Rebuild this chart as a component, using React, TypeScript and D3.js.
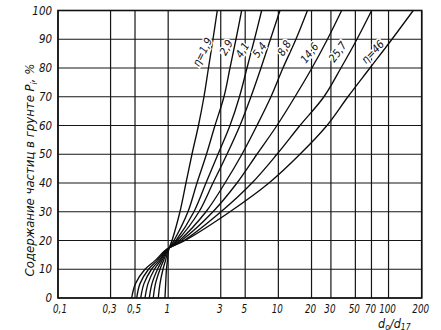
import React from "react";
import * as d3 from "d3";

const W = 441;
const H = 330;

// Percent content levels (y) at which each curve was read
const pLevels = [0, 5, 10, 13, 17, 20, 30, 40, 50, 60, 70, 80, 90, 100];

// d0/d17 values of each curve at those levels
const eta19 = [0.935, 0.949, 0.965, 0.985, 1.013, 1.083, 1.279, 1.45, 1.644, 1.883, 2.113, 2.321, 2.55, 2.79];
const eta29 = [0.813, 0.843, 0.897, 0.945, 1.008, 1.129, 1.512, 1.825, 2.226, 2.659, 3.209, 3.638, 4.123, 4.645];
const eta41 = [0.732, 0.767, 0.843, 0.907, 1.004, 1.177, 1.714, 2.203, 2.831, 3.638, 4.436, 5.19, 6.069, 7.056];
const eta54 = [0.674, 0.713, 0.8, 0.878, 1.0, 1.214, 1.904, 2.55, 3.417, 4.482, 5.641, 6.953, 8.478, 10.34];
const eta88 = [0.616, 0.656, 0.751, 0.851, 0.996, 1.266, 2.203, 3.277, 4.674, 6.394, 8.567, 11.01, 14.44, 18.37];
const eta146 = [0.563, 0.603, 0.706, 0.825, 0.988, 1.32, 2.55, 4.211, 6.394, 9.712, 14.15, 20.18, 27.9, 37.53];
const eta257 = [0.518, 0.555, 0.663, 0.791, 0.981, 1.391, 3.014, 5.759, 9.712, 15.7, 25.93, 36.98, 51.68, 70.24];
const eta46 = [0.466, 0.505, 0.616, 0.759, 0.975, 1.421, 3.638, 8.216, 15.7, 27.61, 42.81, 67.79, 107.4, 167.6];

const curveSeries = [eta19, eta29, eta41, eta54, eta88, eta146, eta257, eta46];
const curveLabels = ["η=1,9", "2,9", "4,1", "5,4", "8,8", "14,6", "25,7", "η=46"];
const labelP = 85;

const xTicks = [0.1, 0.3, 0.5, 1, 3, 5, 10, 20, 30, 50, 70, 100, 200];
const xTickLabels = ["0,1", "0,3", "0,5", "1", "3", "5", "10", "20", "30", "50", "70", "100", "200"];
const yTicks = [0, 10, 20, 30, 40, 50, 60, 70, 80, 90, 100];

const yTitle = "Содержание частиц в грунте P";

// label styling (angle, offsets in px)
const labelAngles = [-63, -61, -58, -54, -58, -52, -54, -46];
const labelDx = [-8, -6.5, -8, -6, -5, -10, -11, -8];
const labelDy = [-1.5, -6, -3.5, -3.5, -5.5, -0.5, -1.5, -1.5];

const FONT = "'DejaVu Sans Condensed', 'DejaVu Sans', sans-serif";

export default function App() {
  const x = d3.scaleLog().domain([0.1, 200]).range([58, 421.7]);
  const y = d3.scaleLinear().domain([0, 100]).range([298, 10.5]);

  const line = d3
    .line<[number, number]>()
    .x((d) => x(d[0]))
    .y((d) => y(d[1]))
    .curve(d3.curveCatmullRom.alpha(0.5));

  const x0 = x(0.1);
  const x1 = x(200);
  const y0 = y(0);
  const y1 = y(100);

  const labelPos = curveSeries.map((vals, i) => {
    const i80 = pLevels.indexOf(80);
    const i90 = pLevels.indexOf(90);
    const t = (labelP - 80) / 10;
    const v = Math.exp(Math.log(vals[i80]) * (1 - t) + Math.log(vals[i90]) * t);
    return { cx: x(v) + labelDx[i], cy: y(labelP) + labelDy[i] };
  });

  return (
    <svg
      width={W}
      height={H}
      style={{ position: "absolute", left: 0, top: 0, background: "#fff" }}
      fontFamily={FONT}
    >
      <rect x={0} y={0} width={W} height={H} fill="#fff" />
      {/* grid */}
      <g stroke="#161616" strokeWidth={1.2}>
        {xTicks.map((t) => (
          <line key={"vx" + t} x1={x(t)} x2={x(t)} y1={y0} y2={y1} />
        ))}
        {yTicks.map((t) => (
          <line key={"hy" + t} x1={x0} x2={x1} y1={y(t)} y2={y(t)} />
        ))}
      </g>
      <rect x={x0} y={y1} width={x1 - x0} height={y0 - y1} fill="none" stroke="#111" strokeWidth={1.6} />

      {/* curves */}
      <g fill="none" stroke="#0d0d0d" strokeWidth={1.35}>
        {curveSeries.map((vals, i) => (
          <path key={"c" + i} d={line(vals.map((v, j) => [v, pLevels[j]] as [number, number])) || ""} />
        ))}
      </g>

      {/* curve labels */}
      <g fontSize={11} fontStyle="italic" fill="#111">
        {curveLabels.map((lab, i) => (
          <text
            key={"l" + i}
            x={0}
            y={0}
            textAnchor="middle"
            dominantBaseline="central"
            transform={`translate(${labelPos[i].cx},${labelPos[i].cy}) rotate(${labelAngles[i]})`}
            stroke="#fff"
            strokeWidth={3}
            paintOrder="stroke"
          >
            {lab}
          </text>
        ))}
      </g>

      {/* y tick labels */}
      <g fontSize={13} fontStyle="italic" fill="#111" textAnchor="end">
        {yTicks.map((t) => (
          <text key={"yl" + t} transform={`translate(52,${y(t) + 4}) scale(0.88,1)`}>
            {t}
          </text>
        ))}
      </g>

      {/* x tick labels */}
      <g fontSize={12.5} fontStyle="italic" fill="#111" textAnchor="middle">
        {xTicks.map((t, i) => (
          <text key={"xl" + t} transform={`translate(${x(t) + (i === 0 ? 2 : -1)},313) scale(0.78,1)`}>
            {xTickLabels[i]}
          </text>
        ))}
      </g>

      {/* y title */}
      <text
        transform="translate(34,170) rotate(-90)"
        textAnchor="middle"
        fontSize={13}
        fontStyle="italic"
        fill="#111"
      >
        {yTitle}
        <tspan fontSize={9} dy={3}>i</tspan>
        <tspan dy={-3}>, %</tspan>
      </text>

      {/* x title */}
      <text x={378} y={327.5} fontSize={12.5} fontStyle="italic" fill="#111">
        d<tspan fontSize={8.5} dy={2}>o</tspan>
        <tspan dy={-2}>/</tspan>
        <tspan>d</tspan>
        <tspan fontSize={8.5} dy={2}>17</tspan>
      </text>
    </svg>
  );
}
